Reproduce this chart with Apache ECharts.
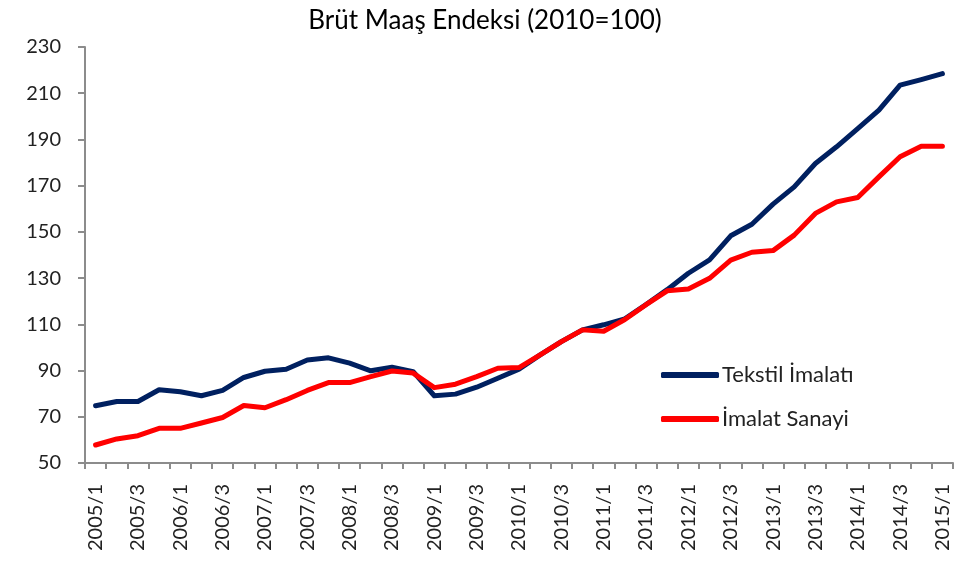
<!DOCTYPE html>
<html>
<head>
<meta charset="utf-8">
<script src="https://cdn.jsdelivr.net/npm/echarts@6/dist/echarts.min.js"></script>
<style>
  html, body { margin: 0; padding: 0; background: #fff; }
  #chart { width: 970px; height: 561px; }
</style>
</head>
<body>
<div id="chart"></div>
<script>
// quarters 2005/1 .. 2015/1
const quarters = [
  '2005/1','2005/2','2005/3','2005/4','2006/1','2006/2','2006/3','2006/4',
  '2007/1','2007/2','2007/3','2007/4','2008/1','2008/2','2008/3','2008/4',
  '2009/1','2009/2','2009/3','2009/4','2010/1','2010/2','2010/3','2010/4',
  '2011/1','2011/2','2011/3','2011/4','2012/1','2012/2','2012/3','2012/4',
  '2013/1','2013/2','2013/3','2013/4','2014/1','2014/2','2014/3','2014/4',
  '2015/1'
];

const tekstil = [
  74.8, 76.6, 76.6, 81.7, 80.8, 79.1, 81.4, 87.0,
  89.7, 90.6, 94.6, 95.5, 93.2, 89.9, 91.4, 89.5,
  79.1, 79.8, 82.8, 86.7, 90.6, 96.8, 102.5, 107.6,
  109.8, 112.4, 118.6, 125.0, 132.1, 137.9, 148.3, 153.3,
  162.0, 169.5, 179.6, 186.8, 194.7, 202.7, 213.5, 215.9,
  218.5
];

const imalat = [
  57.8, 60.4, 61.8, 65.0, 65.0, 67.3, 69.7, 74.9,
  73.9, 77.4, 81.4, 84.8, 84.8, 87.4, 89.8, 88.9,
  82.6, 84.1, 87.4, 91.0, 91.3, 96.8, 102.5, 107.6,
  107.0, 112.1, 118.5, 124.5, 125.3, 129.9, 137.8, 141.2,
  141.9, 148.6, 158.0, 163.0, 164.9, 173.8, 182.5, 187.1,
  187.1
];

const chart = echarts.init(document.getElementById('chart'));
const fontFam = 'Lato, "Open Sans", sans-serif';

chart.setOption({
  animation: false,
  backgroundColor: '#fff',
  title: {
    text: 'Brüt Maaş Endeksi (2010=100)',
    left: 'center',
    top: 3,
    textStyle: { fontFamily: fontFam, fontSize: 26, fontWeight: 'normal', color: '#000' }
  },
  legend: {
    orient: 'vertical',
    left: 656,
    top: 359,
    itemWidth: 58,
    itemHeight: 6,
    itemGap: 22,
    icon: 'roundRect',
    textStyle: { fontFamily: fontFam, fontSize: 22, color: '#222', padding: [0, 0, 0, -2] },
    data: ['Tekstil İmalatı', 'İmalat Sanayi']
  },
  grid: { left: 85, right: 17, top: 47, bottom: 98, containLabel: false },
  xAxis: {
    type: 'category',
    data: quarters,
    boundaryGap: true,
    axisLine: { lineStyle: { color: '#8c8c8c', width: 2 } },
    axisTick: { show: true, interval: 0, length: 6, lineStyle: { color: '#8c8c8c', width: 2 } },
    axisLabel: {
      interval: 1,
      rotate: 90,
      margin: 21,
      fontFamily: fontFam,
      fontSize: 20,
      color: '#222'
    },
    splitLine: { show: false }
  },
  yAxis: {
    type: 'value',
    min: 50,
    max: 230,
    interval: 20,
    axisLine: { show: true, lineStyle: { color: '#8c8c8c', width: 2 } },
    axisTick: { show: true, length: 7, lineStyle: { color: '#8c8c8c', width: 2 } },
    axisLabel: { margin: 24, fontFamily: fontFam, fontSize: 20, color: '#222' },
    splitLine: { show: false }
  },
  series: [
    {
      name: 'Tekstil İmalatı',
      type: 'line',
      data: tekstil,
      showSymbol: false,
      symbol: 'none',
      itemStyle: { color: '#002060' },
      lineStyle: { color: '#002060', width: 5, cap: 'round', join: 'round' },
      z: 2
    },
    {
      name: 'İmalat Sanayi',
      type: 'line',
      data: imalat,
      showSymbol: false,
      symbol: 'none',
      itemStyle: { color: '#ff0000' },
      lineStyle: { color: '#ff0000', width: 5, cap: 'round', join: 'round' },
      z: 3
    }
  ]
});
</script>
</body>
</html>
